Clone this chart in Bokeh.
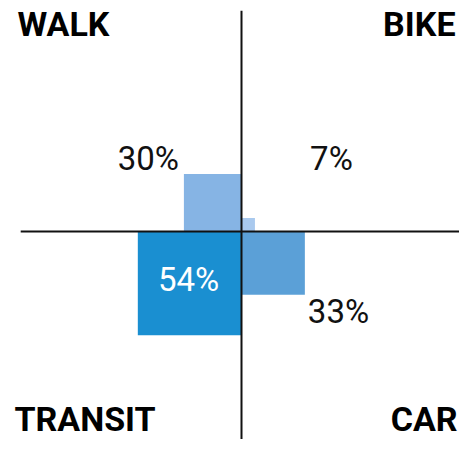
from bokeh.plotting import figure
from bokeh.models import Range1d, ColumnDataSource
from bokeh.core.properties import value
from bokeh.embed import file_html
from bokeh.resources import INLINE

# ---- data ----
categories = ["WALK", "BIKE", "TRANSIT", "CAR"]
shares = [30, 7, 54, 33]          # percent; square side is proportional to share
x_sign = [-1, 1, -1, 1]           # quadrant of each mode
y_sign = [1, 1, -1, -1]

# ---- style / layout ----
colors = ["#86b4e4", "#a9c9ee", "#1a8fd1", "#5ba0d7"]
W, H = 459, 439
PX = 1.92                 # pixels per data unit
OX, OY = 241, 231         # origin position on canvas (from left / top)
AXIS_EXT = 115

p = figure(width=W, height=H, output_backend="svg", toolbar_location=None,
           x_range=Range1d(-OX / PX, (W - OX) / PX),
           y_range=Range1d(-(H - OY) / PX, OY / PX),
           min_border=0)
p.axis.visible = False
p.grid.visible = False
p.outline_line_color = None
p.background_fill_color = "white"
p.border_fill_color = "white"

left = [min(0, s * v) for s, v in zip(x_sign, shares)]
right = [max(0, s * v) for s, v in zip(x_sign, shares)]
bottom = [min(0, s * v) for s, v in zip(y_sign, shares)]
top = [max(0, s * v) for s, v in zip(y_sign, shares)]
src = ColumnDataSource(dict(left=left, right=right, bottom=bottom, top=top,
                            color=colors, cat=categories, share=shares))
p.quad(left="left", right="right", bottom="bottom", top="top",
       fill_color="color", line_color=None, source=src)

# axes cross
p.segment(x0=[-AXIS_EXT, 0], y0=[0, -AXIS_EXT], x1=[AXIS_EXT, 0], y1=[0, AXIS_EXT],
          line_color="#111111", line_width=2)

font = value("Roboto")
pct = [f"{v}%" for v in shares]
PFS = "33px"

# WALK label: bottom-right at top-left corner of its square
p.text(x=[-shares[0]], y=[shares[0]], text=[pct[0]], text_font=font,
       text_font_size=PFS, text_color="#111111", text_align="right",
       text_baseline="alphabetic", x_offset=-5, y_offset=-15)
# BIKE label: mirrored position in upper-right quadrant
p.text(x=[max(shares[1], shares[0])], y=[shares[0]], text=[pct[1]], text_font=font,
       text_font_size=PFS, text_color="#111111", text_align="left",
       text_baseline="alphabetic", x_offset=11, y_offset=-15)
# TRANSIT label: centred inside square
p.text(x=[-shares[2] / 2], y=[-shares[2] / 2], text=[pct[2]], text_font=font,
       text_font_size=PFS, text_color="white", text_align="center",
       text_baseline="middle", x_offset=-1, y_offset=-4)
# CAR label: top-left at bottom-right corner
p.text(x=[shares[3]], y=[-shares[3]], text=[pct[3]], text_font=font,
       text_font_size=PFS, text_color="#111111", text_align="left",
       text_baseline="top", x_offset=3, y_offset=-3)

# category names in corners
x0, x1 = p.x_range.start, p.x_range.end
y0, y1 = p.y_range.start, p.y_range.end
CFS = "34px"
p.text(x=[x0], y=[y1], text=[categories[0]], text_font=font, text_font_style="bold",
       text_font_size=CFS, text_color="black", text_align="left",
       text_baseline="alphabetic", x_offset=17, y_offset=23)
p.text(x=[x1], y=[y1], text=[categories[1]], text_font=font, text_font_style="bold",
       text_font_size=CFS, text_color="black", text_align="right",
       text_baseline="alphabetic", x_offset=-4, y_offset=23)
p.text(x=[x0], y=[y0], text=[categories[2]], text_font=font, text_font_style="bold",
       text_font_size=CFS, text_color="black", text_align="left",
       text_baseline="alphabetic", x_offset=14, y_offset=-21)
p.text(x=[x1], y=[y0], text=[categories[3]], text_font=font, text_font_style="bold",
       text_font_size=CFS, text_color="black", text_align="right",
       text_baseline="alphabetic", x_offset=-2, y_offset=-21)

open("out.html", "w").write(file_html(p, INLINE))
